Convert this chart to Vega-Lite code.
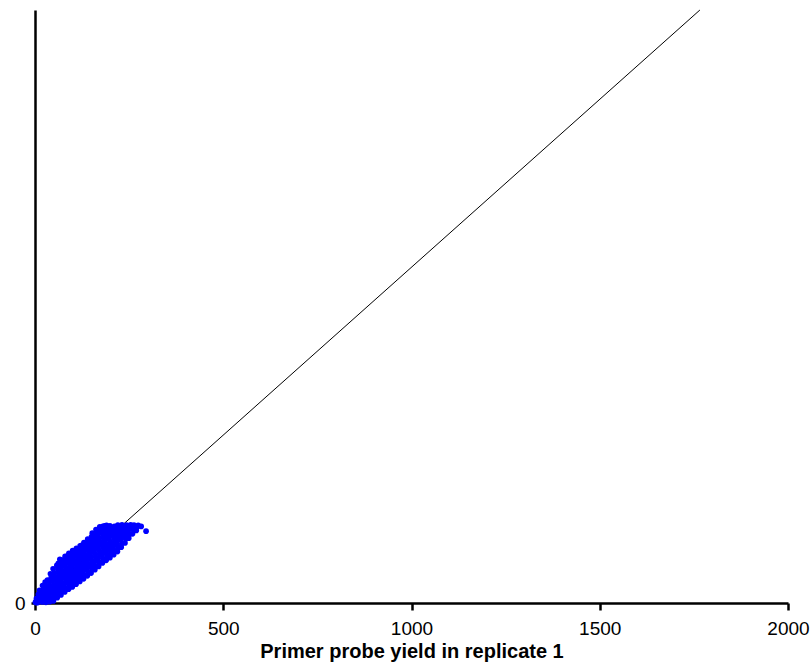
{
  "$schema": "https://vega.github.io/schema/vega-lite/v6.json",
  "width": 753,
  "height": 593,
  "autosize": {"type": "none"},
  "padding": {"left": 35, "top": 10, "right": 23, "bottom": 60},
  "background": "white",
  "config": {"view": {"stroke": null}},
  "datasets": {
    "pts": [
      {"x":1,"y":2},{"x":3,"y":6},{"x":5,"y":1},
      {"x":8,"y":2},{"x":11,"y":14},{"x":9,"y":26},{"x":12,"y":38},{"x":14,"y":8},
      {"x":19,"y":3},{"x":21,"y":15},{"x":18,"y":27},{"x":22,"y":40},{"x":20,"y":52},{"x":24,"y":20},
      {"x":29,"y":2},{"x":31,"y":14},{"x":28,"y":26},{"x":32,"y":38},{"x":30,"y":50},{"x":27,"y":62},{"x":33,"y":68},
      {"x":39,"y":4},{"x":41,"y":16},{"x":38,"y":28},{"x":42,"y":40},{"x":40,"y":52},{"x":37,"y":64},{"x":43,"y":76},{"x":41,"y":87},
      {"x":49,"y":6},{"x":51,"y":18},{"x":48,"y":30},{"x":52,"y":42},{"x":50,"y":54},{"x":47,"y":66},{"x":53,"y":78},{"x":51,"y":90},{"x":48,"y":102},
      {"x":59,"y":16},{"x":61,"y":28},{"x":58,"y":40},{"x":62,"y":52},{"x":60,"y":64},{"x":57,"y":76},{"x":63,"y":88},{"x":61,"y":100},{"x":58,"y":112},{"x":62,"y":118},
      {"x":69,"y":24},{"x":71,"y":36},{"x":68,"y":48},{"x":72,"y":60},{"x":70,"y":72},{"x":67,"y":84},{"x":73,"y":96},{"x":71,"y":108},{"x":68,"y":120},{"x":70,"y":128},
      {"x":79,"y":33},{"x":81,"y":45},{"x":78,"y":57},{"x":82,"y":69},{"x":80,"y":81},{"x":77,"y":93},{"x":83,"y":105},{"x":81,"y":117},{"x":78,"y":129},{"x":80,"y":139},
      {"x":89,"y":41},{"x":91,"y":53},{"x":88,"y":65},{"x":92,"y":77},{"x":90,"y":89},{"x":87,"y":101},{"x":93,"y":113},{"x":91,"y":125},{"x":88,"y":137},{"x":90,"y":148},
      {"x":99,"y":48},{"x":101,"y":60},{"x":98,"y":72},{"x":102,"y":84},{"x":100,"y":96},{"x":97,"y":108},{"x":103,"y":120},{"x":101,"y":132},{"x":98,"y":144},{"x":100,"y":156},
      {"x":109,"y":56},{"x":111,"y":68},{"x":108,"y":80},{"x":112,"y":92},{"x":110,"y":104},{"x":107,"y":116},{"x":113,"y":128},{"x":111,"y":140},{"x":108,"y":152},{"x":110,"y":163},
      {"x":119,"y":64},{"x":121,"y":76},{"x":118,"y":88},{"x":122,"y":100},{"x":120,"y":112},{"x":117,"y":124},{"x":123,"y":136},{"x":121,"y":148},{"x":118,"y":160},{"x":120,"y":170},
      {"x":129,"y":72},{"x":131,"y":84},{"x":128,"y":96},{"x":132,"y":108},{"x":130,"y":120},{"x":127,"y":132},{"x":133,"y":144},{"x":131,"y":156},{"x":128,"y":168},{"x":130,"y":180},
      {"x":139,"y":81},{"x":141,"y":93},{"x":138,"y":105},{"x":142,"y":117},{"x":140,"y":129},{"x":137,"y":141},{"x":143,"y":153},{"x":141,"y":165},{"x":138,"y":177},{"x":140,"y":190},
      {"x":149,"y":89},{"x":151,"y":101},{"x":148,"y":113},{"x":152,"y":125},{"x":150,"y":137},{"x":147,"y":149},{"x":153,"y":161},{"x":151,"y":173},{"x":148,"y":185},{"x":150,"y":197},{"x":152,"y":208},
      {"x":159,"y":99},{"x":161,"y":111},{"x":158,"y":123},{"x":162,"y":135},{"x":160,"y":147},{"x":157,"y":159},{"x":163,"y":171},{"x":161,"y":183},{"x":158,"y":195},{"x":160,"y":207},{"x":162,"y":219},
      {"x":169,"y":109},{"x":171,"y":121},{"x":168,"y":133},{"x":172,"y":145},{"x":170,"y":157},{"x":167,"y":169},{"x":173,"y":181},{"x":171,"y":193},{"x":168,"y":205},{"x":170,"y":217},{"x":172,"y":227},
      {"x":179,"y":119},{"x":181,"y":131},{"x":178,"y":143},{"x":182,"y":155},{"x":180,"y":167},{"x":177,"y":179},{"x":183,"y":191},{"x":181,"y":203},{"x":178,"y":215},{"x":180,"y":228},
      {"x":189,"y":127},{"x":191,"y":139},{"x":188,"y":151},{"x":192,"y":163},{"x":190,"y":175},{"x":187,"y":187},{"x":193,"y":199},{"x":191,"y":211},{"x":188,"y":223},{"x":190,"y":231},
      {"x":199,"y":135},{"x":201,"y":147},{"x":198,"y":159},{"x":202,"y":171},{"x":200,"y":183},{"x":197,"y":195},{"x":203,"y":207},{"x":201,"y":219},{"x":199,"y":230},
      {"x":209,"y":144},{"x":211,"y":156},{"x":208,"y":168},{"x":212,"y":180},{"x":210,"y":192},{"x":207,"y":204},{"x":213,"y":216},{"x":211,"y":228},
      {"x":219,"y":153},{"x":221,"y":165},{"x":218,"y":177},{"x":222,"y":189},{"x":220,"y":201},{"x":217,"y":213},{"x":223,"y":225},{"x":220,"y":232},
      {"x":229,"y":166},{"x":231,"y":178},{"x":228,"y":190},{"x":232,"y":202},{"x":230,"y":214},{"x":227,"y":226},{"x":231,"y":233},
      {"x":239,"y":179},{"x":241,"y":191},{"x":238,"y":203},{"x":242,"y":215},{"x":240,"y":227},{"x":243,"y":232},
      {"x":249,"y":193},{"x":251,"y":205},{"x":248,"y":217},{"x":252,"y":229},{"x":254,"y":233},
      {"x":259,"y":206},{"x":261,"y":218},{"x":258,"y":229},{"x":263,"y":232},
      {"x":269,"y":216},{"x":271,"y":226},{"x":274,"y":231},
      {"x":295,"y":214},{"x":86,"y":140},{"x":124,"y":172},{"x":228,"y":168},{"x":282,"y":228},{"x":66,"y":130},
      {"x":4,"y":14},{"x":15,"y":28},{"x":25,"y":8},{"x":35,"y":20},{"x":45,"y":34},{"x":55,"y":48},{"x":65,"y":62},{"x":75,"y":78},{"x":85,"y":92},{"x":95,"y":106},
      {"x":105,"y":118},{"x":115,"y":132},{"x":125,"y":146},{"x":135,"y":160},{"x":145,"y":172},{"x":155,"y":186},{"x":165,"y":198},{"x":175,"y":210},{"x":185,"y":218},{"x":195,"y":222},
      {"x":205,"y":224},{"x":215,"y":222},{"x":225,"y":218},{"x":235,"y":220},{"x":245,"y":222},{"x":255,"y":224},{"x":265,"y":222},
      {"x":45,"y":12},{"x":55,"y":24},{"x":65,"y":38},{"x":75,"y":52},{"x":85,"y":66},{"x":95,"y":80},{"x":105,"y":92},{"x":115,"y":104},{"x":125,"y":116},{"x":135,"y":128},
      {"x":145,"y":140},{"x":155,"y":152},{"x":165,"y":164},{"x":175,"y":176},{"x":185,"y":188},{"x":195,"y":200},{"x":205,"y":210},{"x":215,"y":200},{"x":225,"y":206},{"x":235,"y":210},
      {"x":35,"y":44},{"x":55,"y":70},{"x":65,"y":100},{"x":75,"y":114},{"x":85,"y":120},{"x":95,"y":134},{"x":105,"y":146},{"x":115,"y":156},{"x":125,"y":160},{"x":135,"y":176},
      {"x":145,"y":186},{"x":155,"y":200},{"x":165,"y":212},{"x":175,"y":224},{"x":185,"y":230},{"x":95,"y":58},{"x":105,"y":70},{"x":115,"y":82},{"x":125,"y":94},{"x":135,"y":100},
      {"x":145,"y":110},{"x":155,"y":120},{"x":165,"y":132},{"x":175,"y":144},{"x":185,"y":150},{"x":195,"y":160},{"x":205,"y":170},{"x":215,"y":180},{"x":225,"y":190},{"x":245,"y":200}
    ],
    "diag": [{"x": 0, "y": 0}, {"x": 1766, "y": 1766}]
  },
  "layer": [
    {
      "data": {"name": "diag"},
      "mark": {"type": "line", "color": "black", "strokeWidth": 1},
      "encoding": {
        "x": {"field": "x", "type": "quantitative", "scale": {"domain": [0, 2000], "nice": false}},
        "y": {"field": "y", "type": "quantitative", "scale": {"domain": [0, 1766], "nice": false}}
      }
    },
    {
      "data": {"name": "pts"},
      "mark": {"type": "circle", "color": "#0000ff", "opacity": 1, "size": 32},
      "encoding": {
        "x": {
          "field": "x", "type": "quantitative",
          "scale": {"domain": [0, 2000], "nice": false},
          "axis": {
            "title": "Primer probe yield in replicate 1",
            "values": [0, 500, 1000, 1500, 2000],
            "format": "d",
            "grid": false,
            "domainColor": "black", "domainWidth": 2.5,
            "tickColor": "black", "tickWidth": 2.5, "tickSize": 7,
            "labelFont": "Liberation Sans", "labelFontSize": 19, "labelColor": "black", "labelPadding": 9,
            "labelFlush": false,
            "titleFont": "Liberation Sans", "titleFontSize": 20, "titleFontWeight": "bold", "titleColor": "black", "titlePadding": 3
          }
        },
        "y": {
          "field": "y", "type": "quantitative",
          "scale": {"domain": [0, 1766], "nice": false},
          "axis": {
            "title": null,
            "values": [0],
            "format": "d",
            "grid": false,
            "domainColor": "black", "domainWidth": 2.5,
            "tickColor": "black", "tickWidth": 2.5, "tickSize": 4,
            "labelFont": "Liberation Sans", "labelFontSize": 19, "labelColor": "black", "labelPadding": 6
          }
        }
      }
    }
  ]
}
